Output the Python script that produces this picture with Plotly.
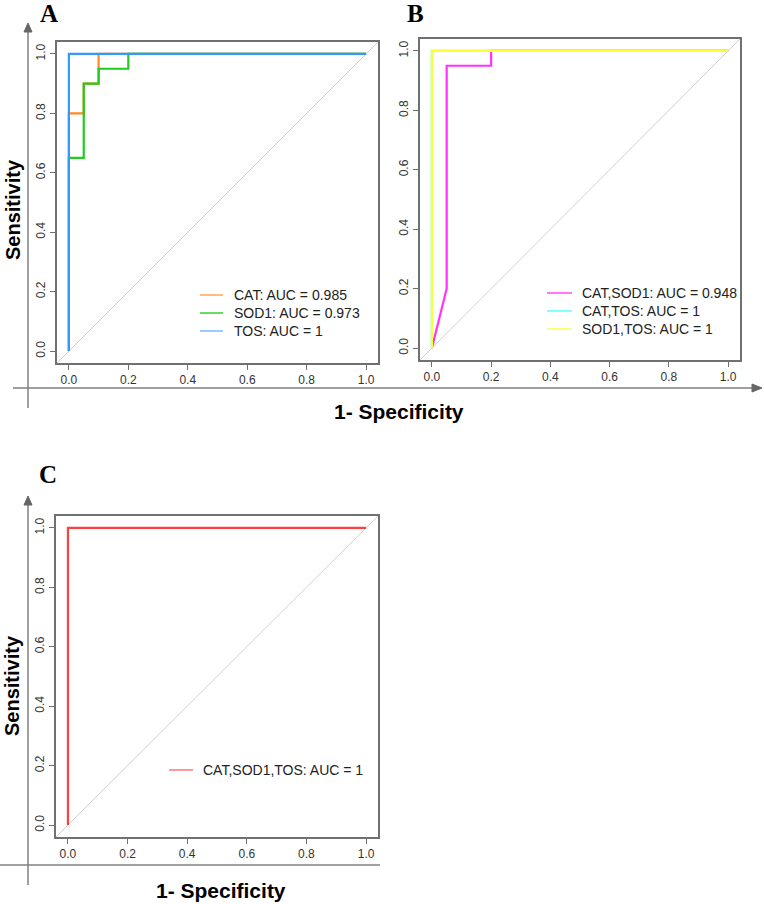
import plotly.graph_objects as go

W, H = 764, 904

# ---------------- data ----------------
# Panel A
cat_fpr = [0, 0, 0.05, 0.05, 0.1, 0.1, 1]
cat_tpr = [0, 0.8, 0.8, 0.9, 0.9, 1.0, 1.0]
sod1_fpr = [0, 0, 0.05, 0.05, 0.1, 0.1, 0.2, 0.2, 1]
sod1_tpr = [0, 0.65, 0.65, 0.9, 0.9, 0.95, 0.95, 1.0, 1.0]
tos_fpr = [0, 0, 1]
tos_tpr = [0, 1, 1]
# Panel B
catsod_fpr = [0, 0.05, 0.05, 0.2, 0.2, 1]
catsod_tpr = [0, 0.2, 0.95, 0.95, 1.0, 1.0]
cattos_fpr = [0, 0, 1]
cattos_tpr = [0, 1, 1]
sodtos_fpr = [0, 0, 1]
sodtos_tpr = [0, 1, 1]
# Panel C
all_fpr = [0, 0, 1]
all_tpr = [0, 1, 1]

labels_A = ["CAT: AUC = 0.985", "SOD1: AUC = 0.973", "TOS: AUC = 1"]
labels_B = ["CAT,SOD1: AUC = 0.948", "CAT,TOS: AUC = 1", "SOD1,TOS: AUC = 1"]
labels_C = ["CAT,SOD1,TOS: AUC = 1"]
tick_vals = [0.0, 0.2, 0.4, 0.6, 0.8, 1.0]
tick_text = ["0.0", "0.2", "0.4", "0.6", "0.8", "1.0"]
diag = [-0.04, 1.04]

# ---------------- helpers ----------------
def px(x):
    return x / W

def py(y):
    return 1 - y / H

FONT = "Liberation Sans, Arial, sans-serif"
SERIF = "Liberation Serif, Times New Roman, serif"

fig = go.Figure()

def curve(xs, ys, color, ax, width=2.2):
    xa = "x" if ax == 1 else f"x{ax}"
    ya = "y" if ax == 1 else f"y{ax}"
    fig.add_trace(go.Scatter(x=xs, y=ys, mode="lines", xaxis=xa, yaxis=ya,
                             line=dict(color=color, width=width),
                             showlegend=False, hoverinfo="skip"))

# diagonals
for ax in (1, 2, 3):
    curve(diag, diag, "#D0D0D0", ax, width=1)

# Panel A
curve(cat_fpr, cat_tpr, "#FF8A1E", 1)
curve(sod1_fpr, sod1_tpr, "#1FCC1F", 1)
curve(tos_fpr, tos_tpr, "#3399FF", 1)
# Panel B
curve(catsod_fpr, catsod_tpr, "#FF33FF", 2)
curve(cattos_fpr, cattos_tpr, "#33FFFF", 2)
curve(sodtos_fpr, sodtos_tpr, "#FFFF33", 2)
# Panel C
curve(all_fpr, all_tpr, "#FF4040", 3)

axis_common = dict(range=[-0.04, 1.04], showgrid=False, zeroline=False,
                   showline=True, mirror=True, linecolor="#707070", linewidth=1.5,
                   ticks="outside", ticklen=5, tickcolor="#707070", tickwidth=1,
                   tickvals=tick_vals, ticktext=tick_text,
                   tickfont=dict(family=FONT, size=12, color="#333333"),
                   fixedrange=True)

domains = {
    1: ((57, 378), (42, 363)),
    2: ((420, 740), (39, 360)),
    3: ((56, 378), (516, 837)),
}
layout_axes = {}
for ax, ((x0, x1), (y0, y1)) in domains.items():
    xk = "xaxis" if ax == 1 else f"xaxis{ax}"
    yk = "yaxis" if ax == 1 else f"yaxis{ax}"
    ya = "y" if ax == 1 else f"y{ax}"
    xa = "x" if ax == 1 else f"x{ax}"
    layout_axes[xk] = dict(axis_common, domain=[px(x0), px(x1)], anchor=ya)
    layout_axes[yk] = dict(axis_common, domain=[py(y1), py(y0)], anchor=xa, tickangle=-90)

fig.update_layout(
    width=W, height=H, margin=dict(l=0, r=0, t=0, b=0),
    paper_bgcolor="white", plot_bgcolor="white", showlegend=False,
    **layout_axes,
)

GRAY = "#808080"
shapes = [
    # panel A outer axes
    dict(type="line", x0=px(28), x1=px(28), y0=py(408), y1=py(30)),
    dict(type="line", x0=px(13), x1=px(752), y0=py(388), y1=py(388)),
    # panel C outer axes
    dict(type="line", x0=px(28), x1=px(28), y0=py(885), y1=py(504)),
    dict(type="line", x0=px(0), x1=px(380), y0=py(865), y1=py(865)),
]
for s in shapes:
    s.update(xref="paper", yref="paper", line=dict(color=GRAY, width=1.5))
fig.update_layout(shapes=shapes)

def tri(points):
    d = "M " + " L ".join(f"{px(a)},{py(b)}" for a, b in points) + " Z"
    fig.add_shape(type="path", path=d, xref="paper", yref="paper",
                  fillcolor="#666666", line=dict(color="#666666", width=1))

tri([(28, 23), (24, 32), (32, 32)])
tri([(762, 388), (752, 384), (752, 392)])
tri([(28, 496), (24, 505), (32, 505)])

def text(s, x, y, size, family=FONT, angle=0, bold=True, anchor="center", color="#000000"):
    fig.add_annotation(text=f"<b>{s}</b>" if bold else s, x=px(x), y=py(y),
                       xref="paper", yref="paper", showarrow=False,
                       textangle=angle, xanchor=anchor, yanchor="middle",
                       font=dict(family=family, size=size, color=color))

# manual legends (R-style): sample line + label
def legend(labels, colors, x_line0, x_line1, x_text, y_first, step):
    for i, (lab, col) in enumerate(zip(labels, colors)):
        yy = y_first + i * step
        fig.add_shape(type="line", xref="paper", yref="paper",
                      x0=px(x_line0), x1=px(x_line1), y0=py(yy), y1=py(yy),
                      line=dict(color=col, width=2))
        fig.add_annotation(text=lab, x=px(x_text), y=py(yy), xref="paper", yref="paper",
                           showarrow=False, xanchor="left", yanchor="middle",
                           font=dict(family=FONT, size=14, color="#222222"))

legend(labels_A, ["#FFBB80", "#66DD66", "#99CCFF"], 200, 223, 232, 295, 18)
legend(labels_B, ["#FF77FF", "#88FFFF", "#FFFF77"], 547, 572, 580, 293, 18)
legend(labels_C, ["#FF9A9A"], 169, 193, 201, 770, 18)

text("A", 49, 14, 25, SERIF)
text("B", 415, 13, 25, SERIF)
text("C", 48, 474, 25, SERIF)
text("Sensitivity", 13, 210, 20, angle=-90)
text("Sensitivity", 12, 686, 20, angle=-90)
text("1- Specificity", 399, 412, 21)
text("1- Specificity", 221, 890, 21)

fig.write_html("out.html", config={"displayModeBar": False},
               post_script="document.body.style.margin='0px';document.body.style.overflow='hidden';")
